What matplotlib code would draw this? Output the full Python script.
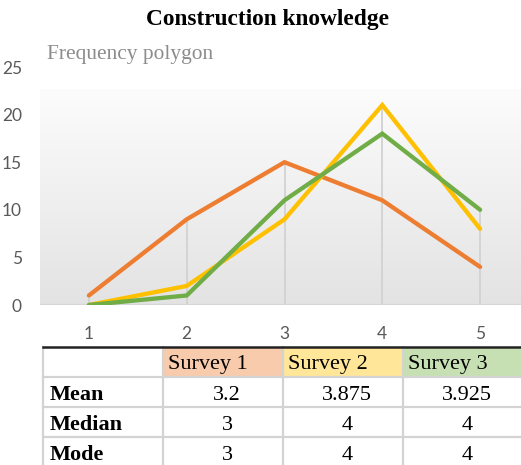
import numpy as np
import matplotlib
matplotlib.use("Agg")
import matplotlib.pyplot as plt
from matplotlib.colors import LinearSegmentedColormap
from matplotlib.patches import Rectangle

# Frequency of each response level (1-5) for the three surveys
levels = [1, 2, 3, 4, 5]
survey1 = [1, 9, 15, 11, 4]
survey2 = [0, 2, 9, 21, 8]
survey3 = [0, 1, 11, 18, 10]
series_names = ["Survey 1", "Survey 2", "Survey 3"]
series_colors = ["#ED7D31", "#FFC000", "#70AD47"]
header_fills = ["#F8CBAD", "#FFE699", "#C6E0B4"]

# Summary statistics table
stat_names = ["Mean", "Median", "Mode"]
stat_values = [["3.2", "3.875", "3.925"],
               ["3", "4", "4"],
               ["3", "4", "4"]]

W, H = 521, 465
fig = plt.figure(figsize=(W / 100, H / 100), dpi=100)
fig.patch.set_facecolor("white")

# ---- Frequency polygon ----
ax = fig.add_axes([40 / W, (H - 305) / H, 489 / W, 238 / H])
ax.set_xlim(0.5, 5.5)
ax.set_ylim(0, 25)
ax.set_facecolor("none")
for s in ax.spines.values():
    s.set_visible(False)

# plot area with a soft vertical gradient
grad = LinearSegmentedColormap.from_list("plotarea", ["#e3e3e3", "#fcfcfc"])
ax.imshow(np.linspace(0, 1, 256).reshape(-1, 1), cmap=grad, origin="lower",
          extent=(0.5, 5.5, 0, 22.6), aspect="auto", zorder=0)

# drop lines from the highest point at each level
tops = np.max([survey1, survey2, survey3], axis=0)
ax.vlines(levels, 0, tops, colors="#d2d2d2", linewidth=1.3, zorder=1)
ax.axhline(0, color="#d6d6d6", linewidth=1.6, zorder=1)

for vals, c in zip([survey1, survey2, survey3], series_colors):
    ax.plot(levels, vals, color=c, linewidth=3.1, solid_capstyle="round",
            solid_joinstyle="miter", zorder=3)

ax.set_xticks(levels)
ax.set_yticks([0, 5, 10, 15, 20, 25])
ax.tick_params(axis="both", length=0, labelsize=12.5, labelcolor="#595959")
ax.tick_params(axis="y", pad=13)
ax.tick_params(axis="x", pad=15)
for lab in ax.get_xticklabels() + ax.get_yticklabels():
    lab.set_fontfamily("Lato")

fig.text(268 / W, 1 - 20 / H, "Construction knowledge", ha="center", va="center",
         fontsize=16.8, fontweight="bold", family="Liberation Serif", color="black")
fig.text(47 / W, 1 - 54 / H, "Frequency polygon", ha="left", va="center",
         fontsize=15.4, family="Liberation Serif", color="#8c8c8c")

# ---- Statistics table ----
tx = fig.add_axes([43 / W, (H - 467) / H, 480 / W, 120 / H])
tx.set_xlim(0, 4)
tx.set_ylim(4, 0)
tx.axis("off")

for j, fc in enumerate(header_fills):
    tx.add_patch(Rectangle((j + 1, 0), 1, 1, facecolor=fc, edgecolor="none", zorder=0))

grid_c = "#d3d3d3"
for r in range(1, 5):
    tx.plot([0, 4], [r, r], color=grid_c, linewidth=1.6, zorder=1, clip_on=False)
for c in range(0, 5):
    tx.plot([c, c], [0, 4], color=grid_c, linewidth=1.6, zorder=1, clip_on=False)
tx.plot([0, 4], [0, 0], color="#222222", linewidth=1.8, zorder=2, clip_on=False)

for j, name in enumerate(series_names):
    tx.text(j + 1 + 0.04, 0.6, name, ha="left", va="center", fontsize=16,
            family="Liberation Serif", color="black")
for i, sname in enumerate(stat_names):
    tx.text(0.058, i + 1.6, sname, ha="left", va="center", fontsize=16,
            fontweight="bold", family="Liberation Serif", color="black")
    for j, v in enumerate(stat_values[i]):
        tx.text(j + 1.535, i + 1.6, v, ha="center", va="center", fontsize=16,
                family="Liberation Serif", color="black")

fig.savefig("out.png", dpi=100)
